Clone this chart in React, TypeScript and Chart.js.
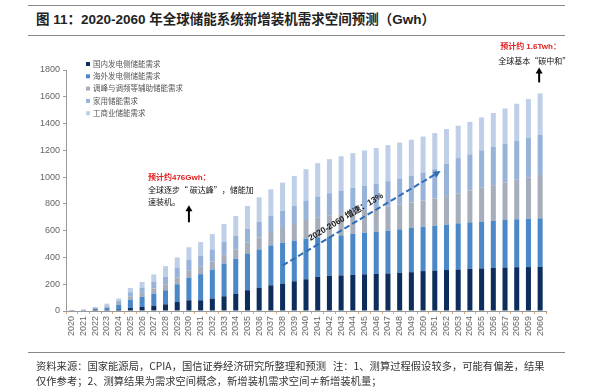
import React, { useEffect, useRef } from "react";
import { Chart, registerables } from "chart.js";

Chart.register(...registerables);

const years = [
  "2020", "2021", "2022", "2023", "2024", "2025", "2026", "2027", "2028", "2029",
  "2030", "2031", "2032", "2033", "2034", "2035", "2036", "2037", "2038", "2039",
  "2040", "2041", "2042", "2043", "2044", "2045", "2046", "2047", "2048", "2049",
  "2050", "2051", "2052", "2053", "2054", "2055", "2056", "2057", "2058", "2059", "2060",
];

const domesticGen = [
  3, 5, 10, 8, 12, 22, 30, 40, 50, 67,
  80, 80, 93, 110, 130, 155, 172, 192, 205, 222,
  237, 255, 262, 266, 270, 274, 277, 280, 284, 290,
  298, 302, 306, 310, 315, 318, 322, 325, 327, 328, 330,
];
const overseasGen = [
  2, 3, 8, 17, 33, 63, 75, 90, 105, 133,
  170, 195, 217, 245, 260, 275, 288, 298, 305, 303,
  303, 295, 293, 299, 305, 311, 315, 320, 326, 330,
  330, 334, 337, 345, 347, 350, 352, 355, 358, 361, 362,
];
const ancillary = [
  1, 1, 4, 8, 15, 25, 30, 38, 45, 50,
  50, 55, 60, 65, 70, 80, 90, 100, 110, 125,
  140, 150, 160, 165, 170, 170, 176, 180, 185, 190,
  197, 204, 215, 224, 238, 252, 266, 280, 295, 309, 324,
];
const household = [
  1, 1, 4, 9, 15, 30, 40, 49, 55, 75,
  85, 85, 90, 95, 100, 105, 115, 120, 130, 135,
  145, 155, 165, 170, 175, 180, 182, 190, 195, 200,
  210, 220, 242, 263, 270, 280, 285, 290, 290, 297, 300,
];
const commercial = [
  1, 2, 4, 13, 18, 32, 42, 56, 80, 75,
  91, 100, 115, 135, 149, 169, 184, 199, 209, 224,
  234, 249, 254, 256, 259, 264, 268, 269, 268, 269,
  268, 269, 259, 242, 243, 246, 254, 263, 278, 288, 309,
];

const seriesNames = [
  "国内发电侧储能需求",
  "海外发电侧储能需求",
  "调峰与调频等辅助储能需求",
  "家用储能需求",
  "工商业储能需求",
];
const seriesColors = ["#0d2d5c", "#4a88c7", "#a6aebb", "#98b3da", "#bfcfe8"];

const yTicks = [0, 200, 400, 600, 800, 1000, 1200, 1400, 1600, 1800];

const title = "图 11：2020-2060 年全球储能系统新增装机需求空间预测（Gwh）";
const note1Red = "预计约476Gwh：";
const note1Black = ["全球逐步\u201c 碳达峰\u201d，储能加", "速装机。"];
const note1Year = "2030";
const note2Red = "预计约 1.6Twh：";
const note2Black = "全球基本\u201c碳中和\u201d";
const note2Year = "2060";
const growthLabel = "2020-2060 增速：13%";
const growthFrom = { index: 18, value: 340 };
const growthTo = { index: 31.5, value: 1045 };
const footer1 = "资料来源：国家能源局，CPIA，国信证券经济研究所整理和预测   注：1、测算过程假设较多，可能有偏差，结果";
const footer2 = "仅作参考；2、测算结果为需求空间概念，新增装机需求空间≠新增装机量；";

const allSeries = [domesticGen, overseasGen, ancillary, household, commercial];
const totalAt = (i: number) => allSeries.reduce((s, arr) => s + arr[i], 0);

const LATIN = '"Liberation Sans", "Noto Sans CJK SC", sans-serif';
const CJK = '"Noto Sans CJK SC", sans-serif';

function drawArrow(ctx: CanvasRenderingContext2D, x: number, yBottom: number, yTip: number) {
  ctx.save();
  ctx.strokeStyle = "#000";
  ctx.fillStyle = "#000";
  ctx.lineWidth = 2;
  ctx.beginPath();
  ctx.moveTo(x, yBottom);
  ctx.lineTo(x, yTip + 5);
  ctx.stroke();
  ctx.beginPath();
  ctx.moveTo(x, yTip);
  ctx.lineTo(x - 3.5, yTip + 6);
  ctx.lineTo(x + 3.5, yTip + 6);
  ctx.closePath();
  ctx.fill();
  ctx.restore();
}

const overlayPlugin = {
  id: "overlay",
  afterDraw(chart: any) {
    const { ctx, chartArea } = chart;
    const xs = chart.scales.x;
    const ys = chart.scales.y;
    ctx.save();

    // legend
    const lx = chartArea.left + 20;
    let ly = chartArea.top - 6;
    ctx.font = `7.5px ${CJK}`;
    ctx.textBaseline = "middle";
    ctx.textAlign = "left";
    seriesNames.forEach((name, i) => {
      ctx.fillStyle = seriesColors[i];
      ctx.fillRect(lx, ly - 2, 4, 4);
      ctx.fillStyle = "#555";
      ctx.fillText(name, lx + 7, ly);
      ly += 12.3;
    });

    // annotation 2030
    const i1 = years.indexOf(note1Year);
    const x1 = xs.getPixelForValue(i1);
    const top1 = ys.getPixelForValue(totalAt(i1));
    drawArrow(ctx, x1, top1 - 25, top1 - 42);
    ctx.textAlign = "left";
    ctx.font = `bold 8px ${LATIN}`;
    ctx.fillStyle = "#e02020";
    ctx.fillText(note1Red, x1 - 41, top1 - 69);
    ctx.font = `8px ${CJK}`;
    ctx.fillStyle = "#111";
    ctx.fillText(note1Black[0], x1 - 41, top1 - 57);
    ctx.fillText(note1Black[1], x1 - 41, top1 - 45);

    // annotation 2060
    const i2 = years.indexOf(note2Year);
    const x2 = xs.getPixelForValue(i2);
    const top2 = ys.getPixelForValue(totalAt(i2));
    drawArrow(ctx, x2 - 1, top2 - 11, top2 - 26);
    ctx.font = `bold 8px ${LATIN}`;
    ctx.fillStyle = "#e02020";
    ctx.fillText(note2Red, x2 - 40, top2 - 47);
    ctx.font = `8px ${CJK}`;
    ctx.fillStyle = "#111";
    ctx.fillText(note2Black, x2 - 42, top2 - 32);

    // growth dashed arrow
    const sx = xs.getPixelForValue(growthFrom.index);
    const sy = ys.getPixelForValue(growthFrom.value);
    const ex = xs.getPixelForValue(growthTo.index);
    const ey = ys.getPixelForValue(growthTo.value);
    const ang = Math.atan2(ey - sy, ex - sx);
    ctx.strokeStyle = "#2f6db4";
    ctx.fillStyle = "#2f6db4";
    ctx.lineWidth = 2;
    ctx.setLineDash([6, 3]);
    ctx.beginPath();
    ctx.moveTo(sx, sy);
    ctx.lineTo(ex - 5 * Math.cos(ang), ey - 5 * Math.sin(ang));
    ctx.stroke();
    ctx.setLineDash([]);
    ctx.beginPath();
    ctx.moveTo(ex, ey);
    ctx.lineTo(ex - 7 * Math.cos(ang) + 3.5 * Math.sin(ang), ey - 7 * Math.sin(ang) - 3.5 * Math.cos(ang));
    ctx.lineTo(ex - 7 * Math.cos(ang) - 3.5 * Math.sin(ang), ey - 7 * Math.sin(ang) + 3.5 * Math.cos(ang));
    ctx.closePath();
    ctx.fill();

    const t = 0.43;
    const mx = sx + (ex - sx) * t + 9 * Math.sin(ang);
    const my = sy + (ey - sy) * t - 9 * Math.cos(ang);
    ctx.translate(mx, my);
    ctx.rotate(ang);
    ctx.textAlign = "center";
    ctx.textBaseline = "middle";
    ctx.font = `bold 8.5px ${LATIN}`;
    ctx.fillStyle = "#1a1a1a";
    ctx.fillText(growthLabel, 0, 0);
    ctx.restore();
  },
};

export default function App() {
  const canvasRef = useRef<HTMLCanvasElement | null>(null);

  useEffect(() => {
    const canvas = canvasRef.current;
    if (!canvas) return;
    const chart = new Chart(canvas, {
      type: "bar",
      data: {
        labels: years,
        datasets: allSeries.map((d, i) => ({
          label: seriesNames[i],
          data: d,
          backgroundColor: seriesColors[i],
          borderWidth: 0,
          barPercentage: 0.43,
          categoryPercentage: 1,
        })),
      },
      options: {
        responsive: false,
        animation: false,
        devicePixelRatio: 1,
        layout: { padding: { left: 0, right: 47, top: 70, bottom: 46 } },
        plugins: {
          legend: { display: false },
          tooltip: { enabled: false },
          title: { display: false },
        },
        scales: {
          x: {
            stacked: true,
            afterFit: (s: any) => { s.height = 30; },
            grid: {
              display: true,
              drawOnChartArea: false,
              drawTicks: true,
              tickLength: 3,
              color: "#e3a56b",
              offset: true,
            },
            border: { display: true, color: "#9a9a9a", width: 1 },
            ticks: {
              autoSkip: false,
              minRotation: 90,
              maxRotation: 90,
              padding: 2,
              color: "#666",
              font: { family: "Liberation Sans", size: 9 },
            },
          },
          y: {
            stacked: true,
            min: 0,
            max: 1800,
            afterFit: (s: any) => { s.width = 66; },
            afterBuildTicks: (s: any) => { s.ticks = yTicks.map((v) => ({ value: v })); },
            grid: {
              display: true,
              drawOnChartArea: false,
              drawTicks: true,
              tickLength: 3,
              color: "#9a9a9a",
            },
            border: { display: true, color: "#9a9a9a", width: 1 },
            ticks: {
              padding: 3,
              color: "#666",
              font: { family: "Liberation Sans", size: 9 },
              callback: (v: any) => String(v),
            },
          },
        },
      },
      plugins: [overlayPlugin],
    });
    return () => chart.destroy();
  }, []);

  return (
    <div style={{ position: "fixed", left: 0, top: 0, width: 593, height: 387, background: "#fff", overflow: "hidden" }}>
      <div style={{ position: "absolute", left: 28, top: 5, width: 537, borderTop: "1px solid #888" }} />
      <div
        style={{
          position: "absolute",
          left: 36,
          top: 11,
          font: `bold 13.5px ${LATIN}`,
          color: "#222",
          whiteSpace: "nowrap",
          lineHeight: "18px",
        }}
      >
        {title}
      </div>
      <div style={{ position: "absolute", left: 28, top: 35, width: 537, borderTop: "1px solid #888" }} />
      <canvas ref={canvasRef} width={593} height={387} style={{ position: "absolute", left: 0, top: 0 }} />
      <div style={{ position: "absolute", left: 28, top: 352, width: 537, borderTop: "1px solid #888" }} />
      <div
        style={{
          position: "absolute",
          left: 36,
          top: 358,
          font: `10.3px ${CJK}`,
          color: "#333",
          whiteSpace: "pre",
          lineHeight: "15px",
        }}
      >
        <div>{footer1}</div>
        <div>{footer2}</div>
      </div>
    </div>
  );
}
